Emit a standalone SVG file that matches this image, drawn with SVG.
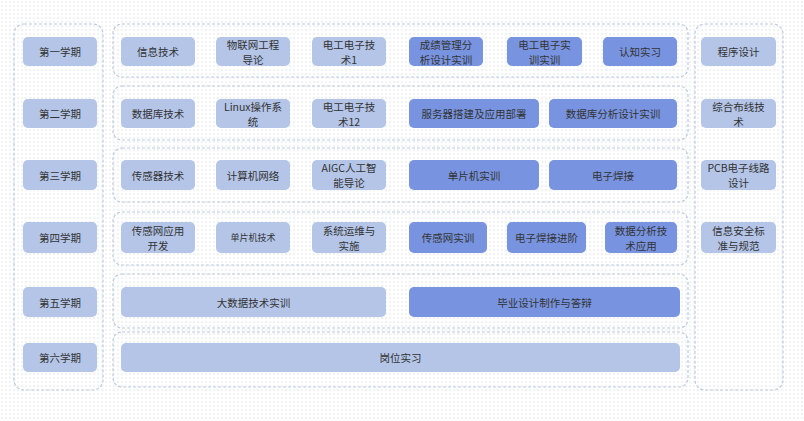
<svg xmlns="http://www.w3.org/2000/svg" width="804" height="421" viewBox="0 0 804 421">
<defs>
<pattern id="dots" width="4" height="4" patternUnits="userSpaceOnUse">
<rect x="1.5" y="1.5" width="1" height="1" fill="#c6cad6"/>
</pattern>
<style>
.box{fill:none;stroke:#bccadf;stroke-width:1.2;stroke-dasharray:3 2}
.l{fill:#b4c5e8}
.d{fill:#7894e0}
text{font-family:"Noto Sans CJK SC","Noto Sans",sans-serif;font-size:10.5px;fill:#333;text-anchor:middle;dominant-baseline:central}
.s{font-size:9px}
</style>
</defs>
<rect width="804" height="421" fill="#ffffff"/>
<rect width="804" height="421" fill="url(#dots)"/>
<g id="containers">
<rect class="box" x="14" y="24" width="89" height="366" rx="10"/>
<rect class="box" x="695" y="24" width="88" height="366" rx="10"/>
<rect class="box" x="113" y="24" width="575" height="53" rx="9"/>
<rect class="box" x="113" y="86" width="575" height="54" rx="9"/>
<rect class="box" x="113" y="148" width="575" height="54" rx="9"/>
<rect class="box" x="113" y="212" width="575" height="53" rx="9"/>
<rect class="box" x="113" y="274" width="575" height="54" rx="9"/>
<rect class="box" x="113" y="332" width="575" height="55" rx="9"/>
</g>
<g id="connectors"></g>
<g id="semesters">
<g id="s1"><rect class="l" x="23" y="37" width="74" height="29" rx="5"/><text x="60" y="51.5">第一学期</text></g>
<g id="s2"><rect class="l" x="23" y="99" width="74" height="29" rx="5"/><text x="60" y="113.5">第二学期</text></g>
<g id="s3"><rect class="l" x="23" y="160" width="74" height="30" rx="5"/><text x="60" y="175">第三学期</text></g>
<g id="s4"><rect class="l" x="23" y="222" width="74" height="31" rx="5"/><text x="60" y="237.5">第四学期</text></g>
<g id="s5"><rect class="l" x="23" y="287" width="74" height="30" rx="5"/><text x="60" y="302">第五学期</text></g>
<g id="s6"><rect class="l" x="23" y="343" width="74" height="29" rx="5"/><text x="60" y="357.5">第六学期</text></g>
</g>
<g id="row1">
<g id="n11"><rect class="l" x="121" y="37" width="74" height="29" rx="5"/><text x="158" y="51.5">信息技术</text></g>
<g id="n12"><rect class="l" x="216" y="37" width="74" height="29" rx="5"/><text x="253" y="44">物联网工程</text><text x="253" y="59">导论</text></g>
<g id="n13"><rect class="l" x="312" y="37" width="74" height="29" rx="5"/><text x="349" y="44">电工电子技</text><text x="349" y="59">术1</text></g>
<g id="n14"><rect class="d" x="409" y="37" width="74" height="29" rx="5"/><text x="446" y="44">成绩管理分</text><text x="446" y="59">析设计实训</text></g>
<g id="n15"><rect class="d" x="507" y="37" width="75" height="29" rx="5"/><text x="544.5" y="44">电工电子实</text><text x="544.5" y="59">训实训</text></g>
<g id="n16"><rect class="d" x="603" y="37" width="74" height="29" rx="5"/><text x="640" y="51.5">认知实习</text></g>
</g>
<g id="row2">
<g id="n21"><rect class="l" x="121" y="99" width="74" height="29" rx="5"/><text x="158" y="113.5">数据库技术</text></g>
<g id="n22"><rect class="l" x="216" y="99" width="74" height="29" rx="5"/><text x="253" y="106">Linux操作系</text><text x="253" y="121">统</text></g>
<g id="n23"><rect class="l" x="312" y="99" width="74" height="29" rx="5"/><text x="349" y="106">电工电子技</text><text x="349" y="121">术12</text></g>
<g id="n24"><rect class="d" x="409" y="99" width="130" height="29" rx="5"/><text x="474" y="113.5">服务器搭建及应用部署</text></g>
<g id="n25"><rect class="d" x="549" y="99" width="128" height="29" rx="5"/><text x="613" y="113.5">数据库分析设计实训</text></g>
</g>
<g id="row3">
<g id="n31"><rect class="l" x="121" y="160" width="74" height="30" rx="5"/><text x="158" y="175">传感器技术</text></g>
<g id="n32"><rect class="l" x="216" y="160" width="74" height="30" rx="5"/><text x="253" y="175">计算机网络</text></g>
<g id="n33"><rect class="l" x="312" y="160" width="74" height="30" rx="5"/><text x="349" y="167.5">AIGC人工智</text><text x="349" y="182.5">能导论</text></g>
<g id="n34"><rect class="d" x="409" y="160" width="130" height="30" rx="5"/><text x="474" y="175">单片机实训</text></g>
<g id="n35"><rect class="d" x="549" y="160" width="128" height="30" rx="5"/><text x="613" y="175">电子焊接</text></g>
</g>
<g id="row4">
<g id="n41"><rect class="l" x="121" y="222" width="74" height="31" rx="5"/><text x="158" y="230">传感网应用</text><text x="158" y="245">开发</text></g>
<g id="n42"><rect class="l" x="216" y="222" width="74" height="31" rx="5"/><text class="s" x="253" y="237.5">单片机技术</text></g>
<g id="n43"><rect class="l" x="312" y="222" width="74" height="31" rx="5"/><text x="349" y="230">系统运维与</text><text x="349" y="245">实施</text></g>
<g id="n44"><rect class="d" x="409" y="222" width="78" height="31" rx="5"/><text x="448" y="237.5">传感网实训</text></g>
<g id="n45"><rect class="d" x="507" y="222" width="79" height="31" rx="5"/><text x="546.5" y="237.5">电子焊接进阶</text></g>
<g id="n46"><rect class="d" x="605" y="222" width="72" height="31" rx="5"/><text x="641" y="230">数据分析技</text><text x="641" y="245">术应用</text></g>
</g>
<g id="row5">
<g id="n51"><rect class="l" x="121" y="287" width="265" height="30" rx="5"/><text x="253.5" y="302">大数据技术实训</text></g>
<g id="n52"><rect class="d" x="409" y="287" width="271" height="30" rx="5"/><text x="544.5" y="302">毕业设计制作与答辩</text></g>
</g>
<g id="row6">
<g id="n61"><rect class="l" x="121" y="343" width="559" height="29" rx="5"/><text x="400.5" y="357.5">岗位实习</text></g>
</g>
<g id="electives">
<g id="e1"><rect class="l" x="701" y="37" width="75" height="29" rx="5"/><text x="738.5" y="51.5">程序设计</text></g>
<g id="e2"><rect class="l" x="701" y="99" width="75" height="29" rx="5"/><text x="738.5" y="106">综合布线技</text><text x="738.5" y="121">术</text></g>
<g id="e3"><rect class="l" x="701" y="160" width="75" height="30" rx="5"/><text x="738.5" y="167.5">PCB电子线路</text><text x="738.5" y="182.5">设计</text></g>
<g id="e4"><rect class="l" x="701" y="222" width="75" height="31" rx="5"/><text x="738.5" y="230">信息安全标</text><text x="738.5" y="245">准与规范</text></g>
</g>
</svg>
